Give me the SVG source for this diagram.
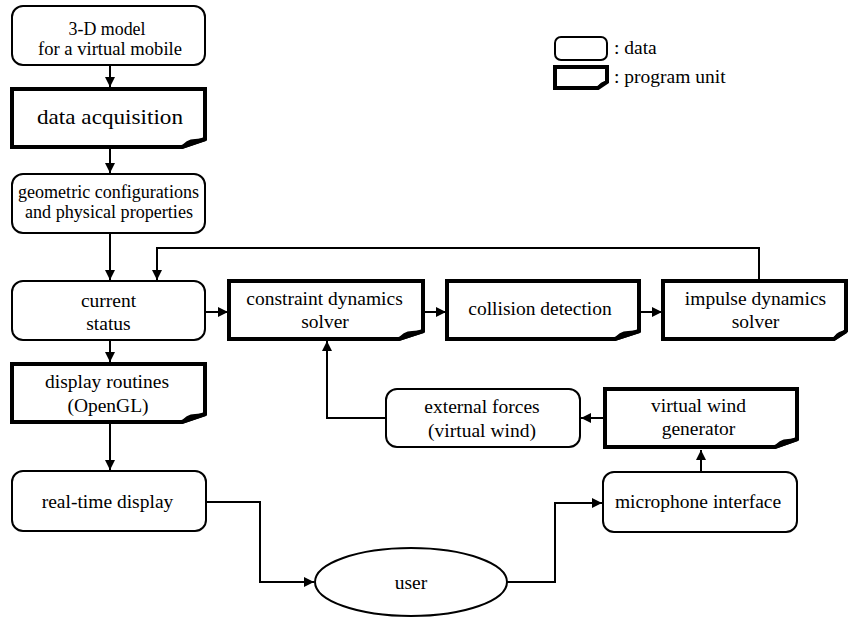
<svg xmlns="http://www.w3.org/2000/svg" width="849" height="617" viewBox="0 0 849 617">
<defs>
<style>
text{font-family:"Liberation Serif","Times New Roman",serif;font-size:19.5px;fill:#000;text-anchor:middle}
.sm{font-size:18px}
.big{font-size:21px}
.data{fill:#fff;stroke:#000;stroke-width:2}
.prog{fill:#fff;stroke:#000;stroke-width:4;stroke-linejoin:miter}
.curl{fill:#000;stroke:none}
.conn{fill:none;stroke:#000;stroke-width:2}
.leg{text-anchor:start}
</style>
<marker id="ah" viewBox="0 0 10 10" refX="10" refY="5" markerWidth="5" markerHeight="5" orient="auto" markerUnits="strokeWidth">
<path d="M0,0 L10,5 L0,10 Z" fill="#000"/>
</marker>
</defs>
<rect width="849" height="617" fill="#fff"/>

<g id="legend">
<rect class="data" x="555" y="37" width="52" height="23" rx="6"/>
<text class="leg" x="614" y="54">: data</text>
<path class="prog" d="M555,67 H607 V82 L598,88 H555 Z"/>
<path class="curl" d="M597,88 Q600,81 607,81 L608,83 L598,89 Z"/>
<text class="leg" x="614" y="83">: program unit</text>
</g>

<g id="n_model">
<rect class="data" x="12" y="6" width="193" height="59" rx="11"/>
<text class="sm" x="107" y="35" textLength="77" lengthAdjust="spacingAndGlyphs">3-D model</text>
<text class="sm" x="110" y="55" textLength="144" lengthAdjust="spacingAndGlyphs">for a virtual mobile</text>
</g>

<g id="n_acq">
<path class="prog" d="M12,89 H205 V139 L182,147 H12 Z"/>
<path class="curl" d="M180,148 Q186,139 195,139 L206,138 L206,141 L182,149 Z"/>
<text class="big" x="110" y="124" textLength="146" lengthAdjust="spacingAndGlyphs">data acquisition</text>
</g>

<g id="n_geo">
<rect class="data" x="12" y="174" width="193" height="59" rx="11"/>
<text class="sm" x="108.5" y="198" textLength="181" lengthAdjust="spacingAndGlyphs">geometric configurations</text>
<text class="sm" x="109" y="218" textLength="168" lengthAdjust="spacingAndGlyphs">and physical properties</text>
</g>

<g id="n_status">
<rect class="data" x="12" y="281" width="193" height="59" rx="11"/>
<text x="108.5" y="307">current</text>
<text x="108.5" y="330">status</text>
</g>

<g id="n_constraint">
<path class="prog" d="M229,281 H423 V331 L399,339 H229 Z"/>
<path class="curl" d="M397,340 Q403,331 412,331 L424,330 L424,333 L399,341 Z"/>
<text x="324.5" y="305">constraint dynamics</text>
<text x="325" y="328">solver</text>
</g>

<g id="n_collision">
<path class="prog" d="M447,281 H639 V331 L615,339 H447 Z"/>
<path class="curl" d="M613,340 Q619,331 628,331 L640,330 L640,333 L615,341 Z"/>
<text x="540" y="315">collision detection</text>
</g>

<g id="n_impulse">
<path class="prog" d="M663,281 H846 V331 L834,339 H663 Z"/>
<path class="curl" d="M832,340 Q836,332 842,331 L847,330 L847,333 L834,341 Z"/>
<text x="755.5" y="305">impulse dynamics</text>
<text x="755.5" y="328">solver</text>
</g>

<g id="n_display">
<path class="prog" d="M12,364 H205 V414 L182,422 H12 Z"/>
<path class="curl" d="M180,423 Q186,414 195,414 L206,413 L206,416 L182,424 Z"/>
<text x="107" y="388">display routines</text>
<text x="108" y="412">(OpenGL)</text>
</g>

<g id="n_realtime">
<rect class="data" x="12" y="471" width="194" height="60" rx="11"/>
<text x="107.5" y="508">real-time display</text>
</g>

<g id="n_external">
<rect class="data" x="386" y="389" width="194" height="58" rx="11"/>
<text x="482" y="413">external forces</text>
<text x="482" y="437">(virtual wind)</text>
</g>

<g id="n_wind">
<path class="prog" d="M605,389 H797 V439 L775,447 H605 Z"/>
<path class="curl" d="M773,448 Q779,439 788,439 L798,438 L798,441 L775,449 Z"/>
<text x="698.5" y="412">virtual wind</text>
<text x="698.5" y="435">generator</text>
</g>

<g id="n_mic">
<rect class="data" x="603" y="472" width="194" height="60" rx="11"/>
<text x="698" y="508">microphone interface</text>
</g>

<g id="n_user">
<ellipse class="data" cx="411" cy="582" rx="96" ry="34"/>
<text x="411" y="589">user</text>
</g>

<g id="connectors">
<path class="conn" d="M110,65 V87" marker-end="url(#ah)"/>
<path class="conn" d="M110,149 V173" marker-end="url(#ah)"/>
<path class="conn" d="M110,233 V280" marker-end="url(#ah)"/>
<path class="conn" d="M759,279 V248 H157 V280" marker-end="url(#ah)"/>
<path class="conn" d="M205,312 H228" marker-end="url(#ah)"/>
<path class="conn" d="M425,312 H446" marker-end="url(#ah)"/>
<path class="conn" d="M641,312 H662" marker-end="url(#ah)"/>
<path class="conn" d="M110,340 V362" marker-end="url(#ah)"/>
<path class="conn" d="M110,424 V470" marker-end="url(#ah)"/>
<path class="conn" d="M206,502 H260 V582 H314" marker-end="url(#ah)"/>
<path class="conn" d="M507,582 H555 V503 H602" marker-end="url(#ah)"/>
<path class="conn" d="M701,472 V450" marker-end="url(#ah)"/>
<path class="conn" d="M603,418 H581" marker-end="url(#ah)"/>
<path class="conn" d="M386,418 H327 V341" marker-end="url(#ah)"/>
</g>
</svg>
